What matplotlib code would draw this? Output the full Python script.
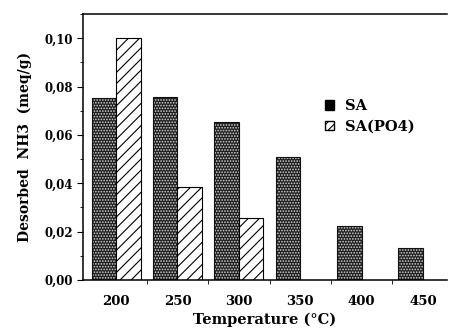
import matplotlib.pyplot as plt
import numpy as np
from matplotlib.patches import Patch
from matplotlib.ticker import FixedLocator, MultipleLocator, FuncFormatter

temps = ["200", "250", "300", "350", "400", "450"]
sa = [0.0755, 0.0757, 0.0652, 0.0510, 0.0224, 0.0134]
sa_po4 = [0.1000, 0.0386, 0.0255, np.nan, np.nan, np.nan]


def main():
    plt.rcParams["font.family"] = ["DejaVu Serif"]
    plt.rcParams["font.weight"] = "bold"
    plt.rcParams["hatch.linewidth"] = 0.8

    fig = plt.figure(figsize=(4.52, 3.29), dpi=100)
    ax = fig.add_axes([0.1836, 0.149, 0.805, 0.808])

    x = np.arange(len(temps))
    w = 0.40

    # halftone-looking SA bars: dark fill with fine white dots
    ax.bar(x - w / 2, sa, w, color="#1e1e1e", edgecolor="#d8d8d8", hatch="......", linewidth=0)
    ax.bar(x - w / 2, sa, w, fill=False, edgecolor="#111111", linewidth=0.8)
    ax.bar(x + w / 2, sa_po4, w, color="white", edgecolor="black", hatch="///", linewidth=0.8)

    ax.set_xlim(-0.54, 5.39)
    ax.set_ylim(0, 0.11)

    ax.set_xticks(x)
    ax.set_xticklabels(temps, fontsize=9.5, fontweight="bold")
    ax.xaxis.set_minor_locator(FixedLocator(x[:-1] + 0.5))
    ax.tick_params(axis="x", which="major", length=0, pad=11)
    ax.tick_params(axis="x", which="minor", length=3, direction="out")

    ax.yaxis.set_major_locator(MultipleLocator(0.02))
    ax.yaxis.set_minor_locator(MultipleLocator(0.01))
    ax.yaxis.set_major_formatter(FuncFormatter(lambda v, p: f"{v:.2f}".replace(".", ",")))
    ax.tick_params(axis="y", which="major", length=4, direction="out", labelsize=8.5, pad=3)
    ax.tick_params(axis="y", which="minor", length=2, direction="out")
    for lab in ax.get_yticklabels():
        lab.set_fontweight("bold")

    ax.spines["right"].set_visible(False)
    for s in ("left", "bottom", "top"):
        ax.spines[s].set_linewidth(1.1)

    ax.set_xlabel("Temperature (°C)", fontsize=10.5, fontweight="bold", labelpad=3)
    ax.set_ylabel("Desorbed  NH3  (meq/g)", fontsize=10, fontweight="bold", labelpad=9)

    handles = [
        Patch(facecolor="black", edgecolor="black", label="SA"),
        Patch(facecolor="white", edgecolor="black", hatch="////", label="SA(PO4)"),
    ]
    ax.legend(handles=handles, loc="center left", bbox_to_anchor=(0.665, 0.615),
              frameon=False, borderpad=0, borderaxespad=0,
              handlelength=0.6, handleheight=0.6, handletextpad=0.8,
              labelspacing=0.45, prop={"weight": "bold", "size": 10.5})

    fig.savefig("out.png", dpi=100)


if __name__ == "__main__":
    main()
